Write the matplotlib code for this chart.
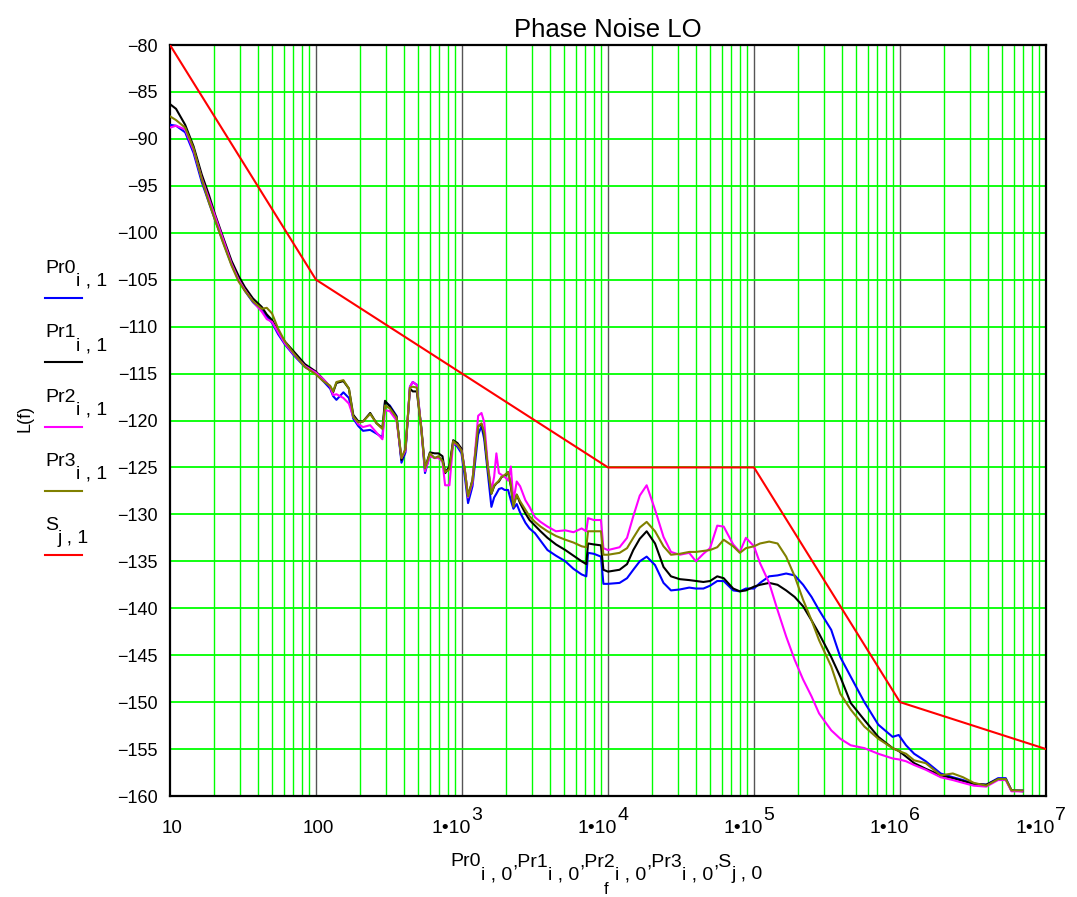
import numpy as np
import matplotlib
matplotlib.use("Agg")
import matplotlib.pyplot as plt
from matplotlib.lines import Line2D

plt.rcParams['font.family'] = ['Liberation Sans', 'DejaVu Sans']

# measured phase noise, frequency offset in Hz, L(f) in dBc/Hz
f = [10, 11, 12.7, 14.5, 16.5, 18.5, 20.3, 23, 26.4, 29.5, 32.6, 37, 42.5, 46, 50, 55, 61.3, 70, 84, 100,
     112, 125, 131, 138, 154, 168, 180, 195, 210, 235, 260, 285, 297, 320, 356, 385, 410, 440, 460, 490,
     527, 558, 603, 650, 690, 735, 766, 820, 870, 930, 992, 1050, 1100, 1180, 1290, 1360, 1420, 1500, 1590, 1660,
     1720, 1790, 1870, 1960, 2070, 2160, 2250, 2370, 2500, 2720, 2900, 3160, 3450, 3850, 4400, 5100, 5800, 6600, 7100, 7300,
     8000, 8950, 9300, 1.0e4, 1.2e4, 1.35e4, 1.49e4, 1.65e4, 1.84e4, 2.1e4, 2.4e4, 2.7e4, 3.1e4, 3.6e4, 4.0e4, 4.5e4, 5.0e4, 5.6e4, 6.2e4, 7.2e4,
     8.0e4, 8.8e4, 1.0e5, 1.1e5, 1.27e5, 1.45e5, 1.66e5, 1.9e5, 2.17e5, 2.48e5, 2.79e5, 3.38e5, 3.9e5, 4.6e5, 5.7e5, 7.1e5, 8.9e5, 9.8e5, 1.1e6, 1.25e6,
     1.5e6, 1.9e6, 2.3e6, 2.7e6, 3.2e6, 3.9e6, 4.7e6, 5.3e6, 5.8e6, 6.9e6]

pr0 = [-88.5, -88.6, -89.3, -91.5, -94.6, -96.8, -98.6, -100.9, -103.4, -105.0, -106.2, -107.4, -108.3, -108.9, -109.6, -110.8, -111.9, -113.0, -114.3, -115.0,
       -115.8, -116.6, -117.4, -117.8, -117.0, -117.6, -119.8, -120.6, -121.1, -121.0, -121.4, -121.8, -118.0, -118.4, -119.5, -124.5, -123.4, -116.4, -115.9, -116.2,
       -121.0, -125.6, -123.6, -124.0, -123.9, -124.2, -125.6, -125.0, -122.4, -122.8, -123.5, -126.2, -128.8, -127.0, -121.5, -120.6, -122.0, -125.5, -129.2, -128.2,
       -127.8, -127.3, -127.2, -127.4, -127.4, -128.5, -129.4, -128.9, -129.8, -130.9, -131.5, -132.0, -132.8, -133.8, -134.4, -135.0, -135.8, -136.4, -136.6, -134.1,
       -134.2, -134.5, -137.4, -137.4, -137.3, -136.8, -135.9, -135.0, -134.5, -135.4, -137.3, -138.1, -138.0, -137.8, -137.9, -137.9, -137.6, -137.1, -137.1, -138.1,
       -138.2, -137.9, -137.9, -137.3, -136.6, -136.5, -136.3, -136.5, -137.5, -138.8, -140.2, -142.3, -145.2, -147.3, -150.0, -152.4, -153.7, -153.5, -154.6, -155.5,
       -156.3, -157.6, -158.0, -158.3, -158.7, -158.8, -158.1, -158.1, -159.4, -159.4]

pr1 = [-86.3, -86.8, -88.5, -90.8, -93.8, -96.0, -98.0, -100.4, -103.0, -104.6, -105.8, -107.0, -107.9, -108.7, -109.3, -110.5, -111.6, -112.6, -114.0, -114.8,
       -115.6, -116.4, -117.0, -116.0, -115.8, -116.6, -119.4, -120.1, -120.1, -119.2, -120.3, -120.8, -117.9, -118.5, -119.6, -124.2, -123.1, -116.6, -116.9, -116.9,
       -120.8, -125.1, -123.4, -123.5, -123.5, -123.8, -125.6, -124.9, -122.1, -122.4, -123.0, -125.5, -128.1, -126.3, -120.6, -120.4, -121.5, -124.9, -127.8, -127.0,
       -126.7, -126.5, -126.0, -125.9, -125.5, -127.0, -129.0, -127.9, -128.8, -129.9, -130.6, -131.2, -131.8, -132.5, -133.2, -133.8, -134.4, -135.0, -135.3, -133.1,
       -133.2, -133.3, -135.9, -136.1, -135.9, -135.3, -133.8, -132.6, -131.8, -133.1, -135.6, -136.6, -136.9, -137.0, -137.1, -137.2, -137.1, -136.6, -136.8, -137.9,
       -138.2, -138.1, -137.7, -137.5, -137.3, -137.5, -138.1, -138.8, -139.8, -141.3, -142.7, -145.2, -147.3, -150.1, -151.9, -153.7, -154.9, -155.2, -155.8, -156.5,
       -157.1, -157.8, -158.1, -158.4, -158.7, -158.8, -158.2, -158.2, -159.4, -159.5]

pr2 = [-88.8, -88.6, -89.0, -91.2, -94.2, -96.4, -98.2, -100.6, -103.3, -105.0, -106.1, -107.3, -108.4, -109.2, -109.5, -110.6, -111.8, -112.9, -114.2, -114.9,
       -115.6, -116.4, -117.3, -117.2, -117.6, -118.2, -119.6, -120.4, -120.7, -120.5, -121.3, -122.0, -118.9, -119.0, -120.0, -124.0, -123.2, -116.4, -115.9, -116.2,
       -121.0, -125.4, -123.8, -124.0, -124.0, -124.4, -126.9, -126.9, -122.4, -122.6, -123.2, -125.5, -128.2, -126.6, -119.5, -119.2, -120.2, -124.6, -127.5, -126.0,
       -123.5, -125.6, -125.8, -126.0, -126.4, -124.9, -128.6, -126.5, -127.0, -128.5, -129.2, -130.3, -130.8, -131.3, -131.8, -131.7, -131.9, -131.5, -131.8, -130.4,
       -130.6, -130.6, -133.6, -133.8, -133.5, -132.5, -130.2, -128.0, -126.9, -129.5, -132.4, -134.0, -134.3, -134.1, -135.0, -134.2, -133.6, -131.2, -131.3, -133.2,
       -134.0, -132.5, -133.4, -135.2, -137.3, -140.2, -143.0, -145.5, -147.6, -149.4, -151.2, -153.0, -153.9, -154.6, -154.9, -155.5, -156.0, -156.1, -156.3, -156.7,
       -157.2, -158.0, -158.3, -158.6, -158.9, -159.0, -158.3, -158.3, -159.5, -159.5]

pr3 = [-87.6, -88.0, -88.8, -91.0, -94.3, -96.8, -98.6, -101.0, -103.5, -105.2, -106.2, -107.3, -108.1, -108.0, -108.6, -110.2, -111.6, -112.8, -114.3, -115.1,
       -115.8, -116.3, -116.9, -115.9, -115.7, -116.6, -119.6, -120.2, -120.1, -119.3, -120.3, -120.9, -118.4, -118.7, -119.7, -124.0, -123.0, -116.5, -116.4, -116.5,
       -121.0, -125.1, -123.5, -124.0, -123.8, -124.3, -125.5, -125.2, -122.2, -122.6, -123.2, -125.6, -128.1, -126.4, -120.6, -120.3, -121.3, -124.9, -127.8, -126.9,
       -126.7, -126.4, -126.0, -125.8, -125.5, -126.8, -129.2, -127.9, -128.6, -129.5, -130.2, -130.8, -131.3, -131.8, -132.3, -132.7, -133.0, -133.4, -133.5, -131.8,
       -131.8, -131.8, -134.3, -134.3, -134.1, -133.6, -132.5, -131.4, -130.8, -131.8, -133.4, -134.3, -134.2, -134.0, -134.0, -133.9, -133.8, -133.5, -132.7, -133.4,
       -134.1, -133.6, -133.4, -133.1, -132.9, -133.1, -134.5, -136.6, -139.1, -141.3, -143.4, -146.2, -149.1, -150.8, -152.6, -153.9, -154.9, -155.2, -155.5, -156.2,
       -156.5, -157.8, -157.6, -158.0, -158.6, -158.9, -158.2, -158.2, -159.4, -159.4]

# specification mask
s_f = [10, 100, 1e4, 1e5, 1e6, 1e7]
s_L = [-80, -105, -125, -125, -150, -155]

names = ['Pr0', 'Pr1', 'Pr2', 'Pr3', 'S']
subs = ['i , 1', 'i , 1', 'i , 1', 'i , 1', 'j , 1']
colors = ['#0000ff', '#000000', '#ff00ff', '#808000', '#ff0000']

W, H = 1077, 897
fig = plt.figure(figsize=(W / 100, H / 100), dpi=100)
ax = fig.add_axes([170 / W, 1 - 796 / H, (1046 - 170) / W, (796 - 45) / H])
rend = fig.canvas.get_renderer()


def rich(x, y, pieces, ha='left'):
    # pieces: (text, shift down in px, fontsize); x, y = baseline start in px from top-left
    widths = []
    for t, dy, size in pieces:
        tmp = fig.text(0, 0, t, fontsize=size)
        widths.append(tmp.get_window_extent(renderer=rend).width)
        tmp.remove()
    x0 = x - sum(widths) / 2 if ha == 'center' else x
    for (t, dy, size), w in zip(pieces, widths):
        fig.text(x0 / W, 1 - (y + dy) / H, t, fontsize=size, va='baseline', ha='left')
        x0 += w


for y, c in zip([pr0, pr1, pr2, pr3], colors[:4]):
    ax.plot(f, y, color=c, lw=1.5, zorder=3)
ax.plot(s_f, s_L, color=colors[4], lw=1.5, zorder=4)

ax.set_xscale('log')
ax.set_xlim(10, 1e7)
ax.set_ylim(-160, -80)

# grid: green minor lines, dark decade lines
decades = [10, 100, 1e3, 1e4, 1e5, 1e6, 1e7]
for d in decades[:-1]:
    for k in range(2, 10):
        ax.axvline(d * k, color='#00ff00', lw=1.0, zorder=1)
    if d > 10:
        ax.axvline(d, color='#555555', lw=1.0, zorder=1)
for v in range(-155, -80, 5):
    ax.axhline(v, color='#00ff00', lw=1.3, zorder=1)

ax.set_xticks(decades)
ax.set_xticklabels([])
ax.xaxis.set_minor_locator(matplotlib.ticker.NullLocator())
yt = list(range(-160, -79, 5))
ax.set_yticks(yt)
ax.set_yticklabels(['\u2212%d' % abs(v) for v in yt], fontsize=13)
ax.tick_params(length=0, pad=9)

for sp in ax.spines.values():
    sp.set_linewidth(1.6)

ax.set_title('Phase Noise LO', fontsize=18.5, pad=6)

# decade labels below the axis
for e, d in enumerate(decades, start=1):
    px = 170 + (e - 1) * 146
    if e < 3:
        rich(px + 2, 833, [(str(int(d)), 0, 13.5)], ha='center')
    else:
        rich(px - 5, 833, [('1\u202210', 0, 14), (str(e), -13, 14)], ha='center')

# legend column on the left
for i, (n, s, c) in enumerate(zip(names, subs, colors)):
    yb = 273 + i * 64.3
    rich(45, yb, [(n, 0, 14), (s, 13, 14)])
    yl = 1 - (yb + 25) / H
    fig.add_artist(Line2D([45 / W, 82 / W], [yl, yl], color=c, lw=1.5))

fig.text(25 / W, 1 - 418 / H, 'L(f)', rotation=90, fontsize=13, va='center', ha='center')

xl = []
for i, (n, s) in enumerate(zip(names, subs)):
    xl.append(((',' if i else '') + n, 0, 14))
    xl.append((s.replace('1', '0'), 13, 14))
rich(607, 866, xl, ha='center')
fig.text(606 / W, 1 - 894 / H, 'f', fontsize=12, ha='center', va='baseline')

fig.savefig('out.png', dpi=100)
